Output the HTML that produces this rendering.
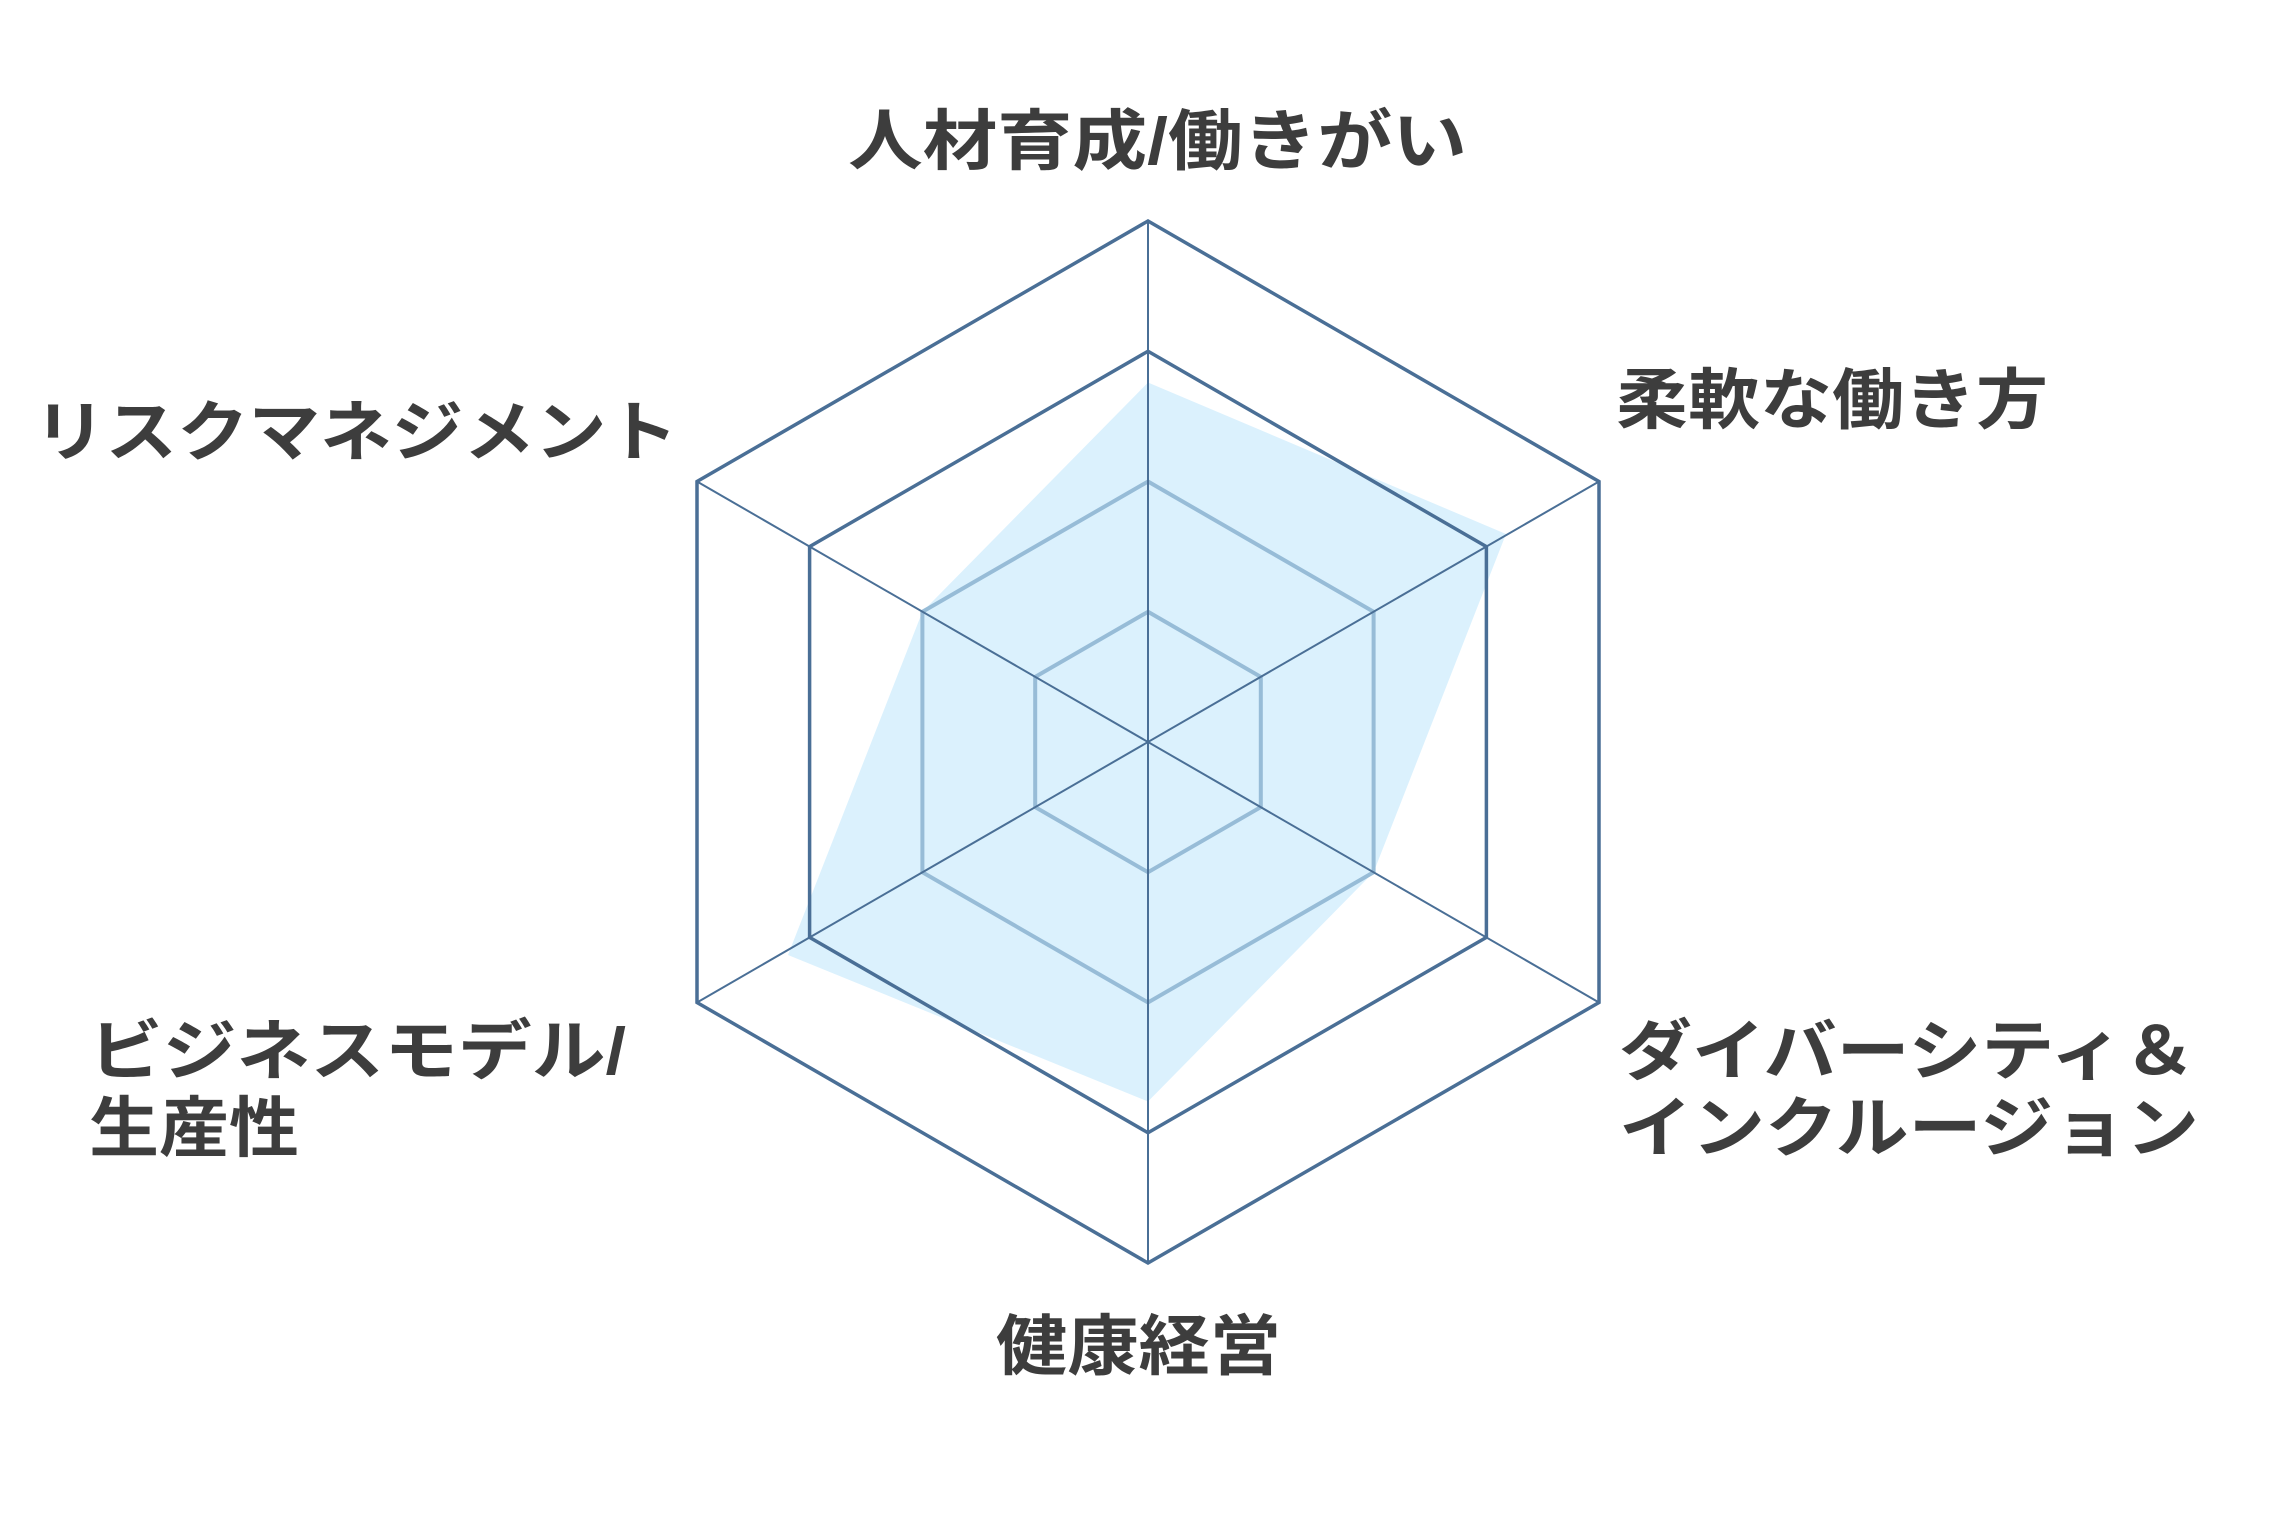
<!DOCTYPE html>
<html><head><meta charset="utf-8"><style>
html,body{margin:0;padding:0;background:#fff;}
svg{display:block;}
text{font-family:"Liberation Sans","Noto Sans CJK JP",sans-serif;font-weight:bold;fill:#3d3d3d;font-size:66px;}
</style></head><body>
<svg width="2285" height="1536" viewBox="0 0 2285 1536" xmlns="http://www.w3.org/2000/svg">
<polygon points="1148,382.5 1506,534 1373.6,872.25 1148,1101.5 788,955 922.4,611.75" fill="#dbf1fd"/>
<g fill="none" stroke="#97bcd7" stroke-width="4">
<polygon points="1148,481.5 1373.6,611.75 1373.6,872.25 1148,1002.5 922.4,872.25 922.4,611.75"/>
<polygon points="1148,611.75 1260.8,676.9 1260.8,807.1 1148,872.25 1035.2,807.1 1035.2,676.9"/>
</g>
<g stroke="#4a6f96" stroke-width="2">
<line x1="1148" y1="221" x2="1148" y2="1263"/>
<line x1="697" y1="481.5" x2="1599" y2="1002.5"/>
<line x1="1599" y1="481.5" x2="697" y2="1002.5"/>
</g>
<g fill="none" stroke="#4a6f96" stroke-width="3.5">
<polygon points="1148,221 1599,481.5 1599,1002.5 1148,1263 697,1002.5 697,481.5"/>
<polygon points="1148,351.25 1486.4,546.6 1486.4,937.4 1148,1132.75 809.6,937.4 809.6,546.6"/>
</g>
<text x="848" y="164" textLength="619" lengthAdjust="spacingAndGlyphs">人材育成/働きがい</text>
<text x="1616" y="423" textLength="432" lengthAdjust="spacingAndGlyphs">柔軟な働き方</text>
<text x="34" y="455" textLength="644" lengthAdjust="spacingAndGlyphs">リスクマネジメント</text>
<text x="89" y="1074" textLength="537" lengthAdjust="spacingAndGlyphs">ビジネスモデル/</text>
<text x="89" y="1151" textLength="210" lengthAdjust="spacingAndGlyphs">生産性</text>
<text x="1619" y="1074" textLength="577" lengthAdjust="spacingAndGlyphs">ダイバーシティ＆</text>
<text x="1619" y="1151" textLength="580" lengthAdjust="spacingAndGlyphs">インクルージョン</text>
<text x="996" y="1369" textLength="285" lengthAdjust="spacingAndGlyphs">健康経営</text>
</svg>
</body></html>
